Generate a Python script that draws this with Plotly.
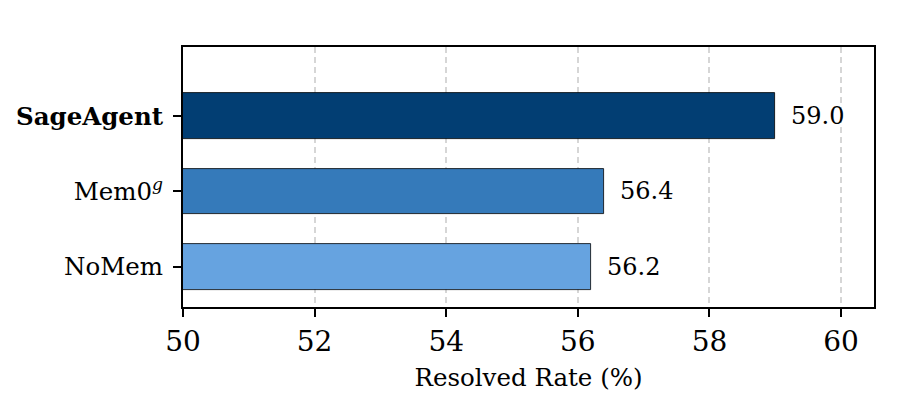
import plotly.graph_objects as go

# data
methods = ["NoMem", "Mem0<sup><i>g</i></sup>", "<b>SageAgent</b>"]
resolved = [56.2, 56.4, 59.0]
bar_colors = ["#66a3e0", "#357aba", "#023e73"]
x_ticks = [50, 52, 54, 56, 58, 60]

FONT = "DejaVu Serif"

fig = go.Figure()
fig.add_trace(go.Bar(
    y=methods, x=resolved, orientation="h",
    base=0,
    marker=dict(color=bar_colors, line=dict(color="black", width=0.8)),
    width=0.61,
    showlegend=False,
))

for m, v in zip(methods, resolved):
    fig.add_annotation(x=v, y=m, text=f"{v:.1f}", showarrow=False,
                       xanchor="left", xshift=14,
                       font=dict(family=FONT, size=24, color="black"))

fig.update_layout(
    width=920, height=400,
    margin=dict(l=175, r=54, t=39, b=101),
    plot_bgcolor="white", paper_bgcolor="white",
    font=dict(family=FONT, color="black"),
    bargap=0,
)
fig.update_xaxes(
    range=[50, 60.5], tickvals=x_ticks,
    ticks="outside", ticklen=8, tickwidth=1.5, tickcolor="black",
    tickfont=dict(size=28),
    showgrid=True, gridcolor="#d6d6d6", griddash="6px,4px", gridwidth=1.5,
    showline=True, linecolor="black", linewidth=2, mirror=True,
    zeroline=False, automargin=False,
    title=dict(text="Resolved Rate (%)", font=dict(size=24.5), standoff=12),
)
fig.update_yaxes(
    type="category", range=[-0.535, 2.92],
    ticks="outside", ticklen=8, tickwidth=1.5, tickcolor="black",
    tickfont=dict(size=24.5), ticklabelstandoff=5,
    showgrid=False, automargin=False,
    showline=True, linecolor="black", linewidth=2, mirror=True,
)

fig.write_html("out.html")
